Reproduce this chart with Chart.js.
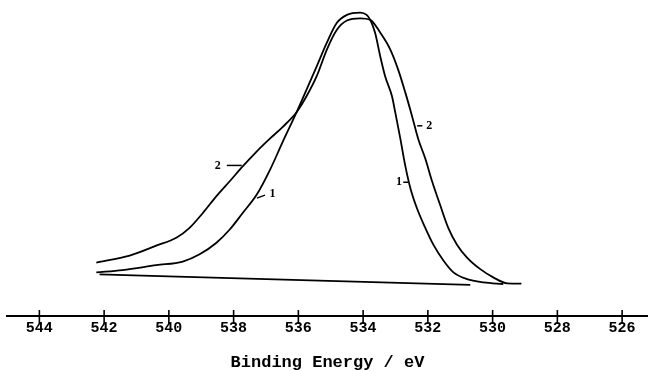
<!DOCTYPE html>
<html>
<head>
<meta charset="utf-8">
<script src="https://cdn.jsdelivr.net/npm/chart.js@4/dist/chart.umd.min.js"></script>
<style>
  html, body { margin: 0; padding: 0; background: #fff; }
  #wrap { width: 648px; height: 371px; position: relative; }
</style>
</head>
<body>
<div id="wrap"><canvas id="myChart"></canvas></div>
<script>
// binding energy (eV) and intensity (arb. units)
var energy1 = [542.24, 541.43, 540.39, 539.57, 539.05, 538.53, 538.12, 537.72, 537.29, 536.88,
	536.48, 536.05, 535.74, 535.43, 535.12, 534.81, 534.50, 534.09, 533.89, 533.78,
	533.63, 533.47, 533.32, 533.11, 533.01, 532.85, 532.70, 532.54, 532.34, 532.08,
	531.83, 531.52, 531.21, 530.79, 530.28, 529.67];
var counts1 = [44, 46.3, 51.3, 55, 62.3, 74, 87.3, 104, 122.3, 147.3,
	176, 206, 229, 252.3, 276, 296, 304, 306.3, 304, 299,
	286, 262, 242, 222, 206, 179, 152, 129, 109, 89,
	72, 56, 44, 37.3, 34, 32.3];

var energy2 = [542.24, 541.21, 540.39, 539.77, 539.36, 538.95, 538.53, 538.12, 537.72, 537.29,
	536.88, 536.48, 536.05, 535.74, 535.43, 535.12, 534.81, 534.50, 534.09, 533.78,
	533.47, 533.16, 532.92, 532.70, 532.49, 532.30, 532.08, 531.87, 531.62, 531.37,
	531.10, 530.79, 530.38, 529.98, 529.55, 529.11];
var counts2 = [54, 61, 71, 79, 89, 104, 121, 136, 151, 166,
	179, 191, 206, 222.3, 242.3, 269, 289, 298.3, 300.5, 299,
	286, 269, 249, 226, 202, 179, 159, 136, 112, 89,
	72, 59, 47.3, 39, 33, 32.7];

// background line
var baseEnergy = [542.14, 530.69];
var baseCounts = [42, 31.5];

var tickValues = [544, 542, 540, 538, 536, 534, 532, 530, 528, 526];

// curve labels: text, position, and the little dash next to each
var labelText = ["2", "1", "2", "1"];
var labelE = [538.49, 536.80, 531.96, 532.89];
var labelI = [152, 123, 192, 135];
var dashE1 = [538.21, 537.28, 532.33, 532.76];
var dashI1 = [152, 119, 192, 135];
var dashE2 = [537.75, 537.03, 532.17, 532.61];
var dashI2 = [152, 122, 192, 135];

function pts(xs, ys) {
	var out = [];
	for (var i = 0; i < xs.length; i++) out.push({x: xs[i], y: ys[i]});
	return out;
}

var crossTicks = {
	id: 'crossTicks',
	afterDraw: function(chart) {
		var ctx = chart.ctx;
		var xs = chart.scales.x, ys = chart.scales.y;
		var axisY = chart.chartArea.bottom;
		ctx.save();
		ctx.strokeStyle = '#000';
		ctx.lineWidth = 1.6;
		tickValues.forEach(function(v) {
			var px = xs.getPixelForValue(v);
			ctx.beginPath();
			ctx.moveTo(px, axisY - 6);
			ctx.lineTo(px, axisY + 8);
			ctx.stroke();
		});
		// curve labels
		ctx.fillStyle = '#000';
		ctx.font = 'bold 12px "Liberation Serif"';
		ctx.textAlign = 'center';
		ctx.textBaseline = 'middle';
		ctx.lineWidth = 1.5;
		for (var i = 0; i < labelText.length; i++) {
			ctx.fillText(labelText[i], xs.getPixelForValue(labelE[i]), ys.getPixelForValue(labelI[i]));
			ctx.beginPath();
			ctx.moveTo(xs.getPixelForValue(dashE1[i]), ys.getPixelForValue(dashI1[i]));
			ctx.lineTo(xs.getPixelForValue(dashE2[i]), ys.getPixelForValue(dashI2[i]));
			ctx.stroke();
		}
		ctx.restore();
	}
};

var lineStyle = {
	borderColor: '#000',
	borderWidth: 1.8,
	pointRadius: 0,
	fill: false,
	cubicInterpolationMode: 'monotone'
};

var ctx = document.getElementById("myChart");
var myChart = new Chart(ctx, {
	type: 'line',
	data: {
		datasets: [
			Object.assign({label: '1', data: pts(energy1, counts1)}, lineStyle),
			Object.assign({label: '2', data: pts(energy2, counts2)}, lineStyle),
			Object.assign({label: 'bg', data: pts(baseEnergy, baseCounts)}, lineStyle)
		]
	},
	options: {
		responsive: true,
		maintainAspectRatio: false,
		animation: false,
		layout: { padding: { left: 7, right: 0, top: 0, bottom: 0 } },
		plugins: {
			legend: { display: false },
			tooltip: { enabled: false }
		},
		scales: {
			x: {
				type: 'linear',
				reverse: true,
				min: 525.2,
				max: 545,
				afterBuildTicks: function(scale) {
					scale.ticks = tickValues.map(function(v) { return {value: v}; });
				},
				grid: { display: false, drawTicks: false },
				border: { display: true, color: '#000', width: 2 },
				ticks: {
					color: '#000',
					padding: 3,
					maxRotation: 0,
					autoSkip: false,
					font: { family: '"Liberation Mono"', size: 15, weight: 'bold', lineHeight: 1.2 }
				},
				title: {
					display: true,
					text: 'Binding Energy / eV',
					color: '#000',
					padding: { top: 14, bottom: 0 },
					font: { family: '"Liberation Mono"', size: 17, weight: 'bold', lineHeight: 1 }
				}
			},
			y: {
				display: false,
				min: 0,
				max: 319
			}
		}
	},
	plugins: [crossTicks]
});
</script>
</body>
</html>
